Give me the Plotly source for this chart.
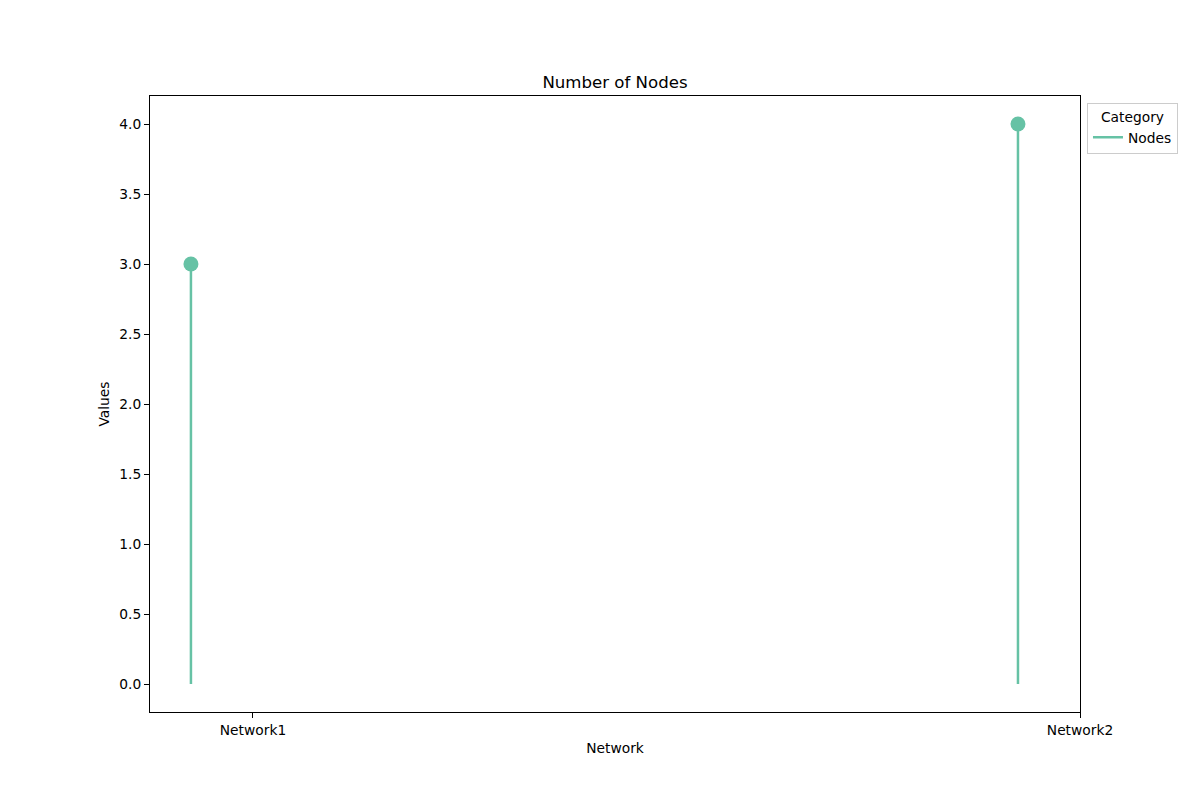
import plotly.graph_objects as go

categories = ["Network1", "Network2"]
values = [3, 4]
series_name = "Nodes"
color = "#66c2a5"

offset = -0.075
xs = [i + offset for i in range(len(categories))]

stem_x, stem_y = [], []
for x, v in zip(xs, values):
    stem_x += [x, x, None]
    stem_y += [0, v, None]

fig = go.Figure()
fig.add_trace(go.Scatter(x=stem_x, y=stem_y, mode="lines", name=series_name,
                         line=dict(color=color, width=2.5), showlegend=True))
fig.add_trace(go.Scatter(x=xs, y=values, mode="markers", name=series_name,
                         marker=dict(color=color, size=15), showlegend=False))

font = "DejaVu Sans, sans-serif"
fig.update_layout(
    width=1200, height=800,
    margin=dict(l=150, r=120, t=96, b=88),
    plot_bgcolor="white", paper_bgcolor="white",
    font=dict(family=font, size=13.8, color="black"),
    title=dict(text="Number of Nodes", x=0.5, xref="paper", xanchor="center",
               y=1 - 82 / 800, yanchor="middle", font=dict(size=16.6)),
    xaxis=dict(range=[-0.1245, 1.0], tickvals=list(range(len(categories))), ticktext=categories,
               showgrid=False, zeroline=False, showline=True, linecolor="black", linewidth=1,
               mirror=True, ticks="outside", ticklen=5, tickcolor="black",
               title=dict(text="Network", font=dict(size=13.8), standoff=6)),
    yaxis=dict(range=[-0.2, 4.2], tickvals=[0, 0.5, 1, 1.5, 2, 2.5, 3, 3.5, 4],
               ticktext=["0.0", "0.5", "1.0", "1.5", "2.0", "2.5", "3.0", "3.5", "4.0"],
               showgrid=False, zeroline=False, showline=True, linecolor="black", linewidth=1,
               mirror=True, ticks="outside", ticklen=5, tickcolor="black",
               title=dict(text="Values", font=dict(size=13.8), standoff=6)),
    legend=dict(x=1.0075, y=0.989, xanchor="left", yanchor="top",
                bordercolor="#cccccc", borderwidth=1, bgcolor="white",
                title=dict(text="Category", side="top center", font=dict(size=13.8)),
                font=dict(size=13.8), itemwidth=30, tracegroupgap=0),
)

fig.write_html("out.html")
